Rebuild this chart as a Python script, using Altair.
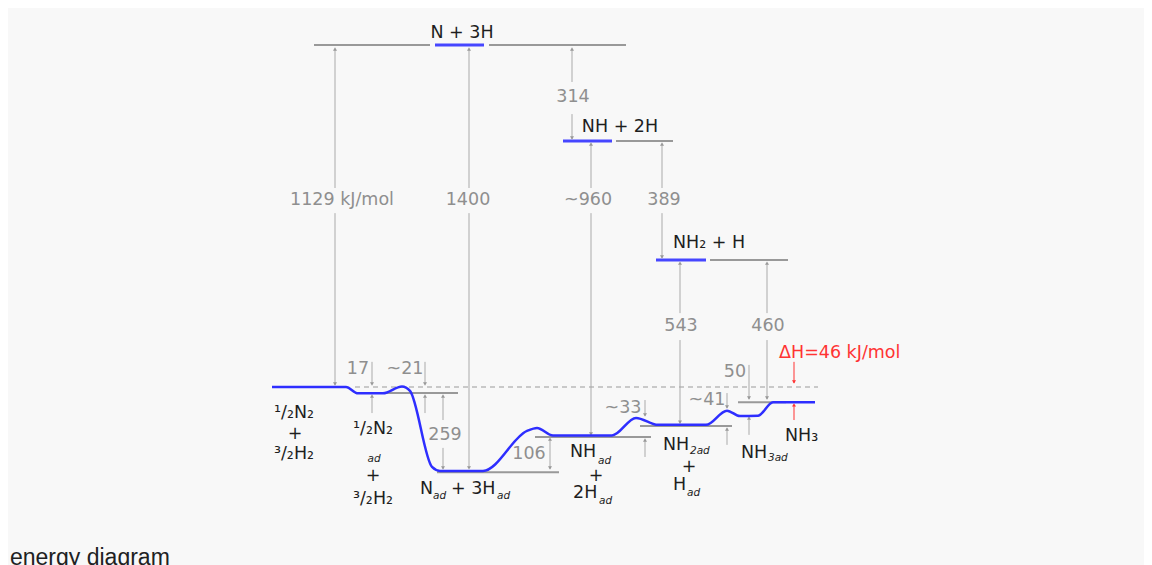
import altair as alt
import pandas as pd

# ---- data: x = reaction coordinate (diagram units), e = energy in kJ/mol (0 = 1/2 N2 + 3/2 H2)
E_TOP, E_BOTTOM = 1251.2, -587.6
X_MIN, X_MAX = 8, 1144

# reaction path (blue curve)
path_x = [272, 346, 358, 383, 402, 410, 432, 440, 483, 527, 537, 553, 612, 636, 658, 706, 727, 740, 758, 773, 815]
path_e = [0, 0, -21, -21, 2, -13, -264, -277, -277, -145, -135, -160, -160, -102, -125, -125, -78, -96, -95, -50, -50]

# gray energy levels
level_x1 = [314, 489, 616, 710, 355, 437, 535, 640, 738]
level_x2 = [430, 626, 673, 788, 458, 559, 651, 732, 786]
level_e = [1129, 1129, 812, 419, -20, -281, -165, -129, -50]

# blue gas-phase levels
blue_x1 = [435, 563, 656]
blue_x2 = [484, 612, 706]
blue_e = [1129, 812, 419]

# reference (dashed) level
ref_x1 = [355]
ref_x2 = [818]
ref_e = [0]

# arrow shafts
seg_x = [335, 335, 469, 469, 572, 572, 591, 591, 662, 662, 680, 680, 767, 767,
         372, 372, 425, 425, 443, 443, 550, 645, 645, 727, 727, 749, 749]
seg_e1 = [1116, 574, 1116, 574, 1116, 901, 799, 574, 799, 574, 406, 155, 406, 155,
          83, -30, 83, -30, -33, -201, -175, -43, -175, -20, -135, 73, -102]
seg_e2 = [657, 7, 657, -267, 1007, 819, 657, -158, 657, 426, 244, -119, 244, -40,
          10, -86, 10, -86, -109, -271, -271, -96, -231, -69, -191, -40, -158]

# arrow heads
head_x = [335, 335, 469, 469, 572, 572, 591, 591, 662, 662, 680, 680, 767, 767,
          372, 372, 425, 425, 443, 443, 550, 550, 645, 645, 727, 727, 749, 749]
head_e = [1116, 10, 1116, -267, 1116, 822, 802, -155, 802, 429, 409, -116, 409, -36,
          10, -30, 10, -30, -30, -267, -172, -267, -92, -175, -66, -139, -36, -102]
head_dir = ["up", "down", "up", "down", "up", "down", "up", "down", "up", "down", "up", "down", "up", "down",
            "down", "up", "down", "up", "up", "down", "up", "down", "down", "up", "down", "up", "down", "up"]

# red ΔH marker
red_seg_x = [794, 794]
red_seg_e1 = [83, -59]
red_seg_e2 = [13, -109]
red_head_x = [794, 794]
red_head_e = [17, -59]
red_head_dir = ["down", "up"]

# gray value labels
val_text = ["1129 kJ/mol", "1400", "314", "~960", "389", "543", "460", "17", "~21", "259", "106", "~33", "~41", "50"]
val_x = [342, 468, 573, 588, 664, 681, 768, 358, 405, 445, 529, 623, 707, 735]
val_e = [617, 617, 957, 617, 617, 201, 201, 59, 59, -158, -221, -69, -43, 50]

# dark species labels (centered)
sp_text = ["N + 3H", "NH + 2H", "NH₂ + H", "¹/₂N₂", "+", "³/₂H₂", "¹/₂N₂", "+", "³/₂H₂", "+", "+"]
sp_x = [462, 620, 709, 294, 295, 294, 373, 373, 373, 596, 689]
sp_e = [1169, 858, 475, -86, -155, -221, -139, -294, -370, -294, -264]

# dark species labels (left-aligned pieces)
spl_text = ["N", "+ 3H", "NH", "2H", "NH", "H", "NH", "NH₃"]
spl_x = [420, 451, 570, 573, 663, 673, 741, 785]
spl_e = [-337, -337, -215, -350, -191, -324, -218, -162]

# "ad" subscripts
sub_text = ["ad", "ad", "ad", "ad", "2ad", "ad", "3ad"]
sub_x = [433, 497, 598, 599, 690, 687, 768]
sub_e = [-360, -360, -244, -376, -211, -350, -234]
subc_text = ["ad"]
subc_x = [374]
subc_e = [-238]

red_text = ["ΔH=46 kJ/mol"]
red_x = [779]
red_e = [112]

caption_text = ["energy diagram"]
caption_x = [10]
caption_e = [-586]

# ---- chart
xs = alt.Scale(domain=[X_MIN, X_MAX], nice=False, zero=False)
ys = alt.Scale(domain=[E_BOTTOM, E_TOP], nice=False, zero=False)


def X(f):
    return alt.X(f, type="quantitative", scale=xs, axis=None)


def Y(f):
    return alt.Y(f, type="quantitative", scale=ys, axis=None)


shape_scale = alt.Scale(domain=["up", "down"], range=["triangle-up", "triangle-down"])
FS = 17.5

levels = alt.Chart(pd.DataFrame({"x1": level_x1, "x2": level_x2, "e": level_e})).mark_rule(
    color="#999999", strokeWidth=2).encode(x=X("x1"), x2="x2:Q", y=Y("e"))
blues = alt.Chart(pd.DataFrame({"x1": blue_x1, "x2": blue_x2, "e": blue_e})).mark_rule(
    color="#4646ff", strokeWidth=3).encode(x=X("x1"), x2="x2:Q", y=Y("e"))
ref = alt.Chart(pd.DataFrame({"x1": ref_x1, "x2": ref_x2, "e": ref_e})).mark_rule(
    color="#999999", strokeWidth=1.2, strokeDash=[5, 4]).encode(x=X("x1"), x2="x2:Q", y=Y("e"))

segs = alt.Chart(pd.DataFrame({"x": seg_x, "e1": seg_e1, "e2": seg_e2})).mark_rule(
    color="#aaaaaa", strokeWidth=1).encode(x=X("x"), y=Y("e1"), y2="e2:Q")
heads = alt.Chart(pd.DataFrame({"x": head_x, "e": head_e, "d": head_dir})).mark_point(
    filled=True, size=16, color="#999999", opacity=1).encode(
    x=X("x"), y=Y("e"), shape=alt.Shape("d:N", scale=shape_scale, legend=None))

red_segs = alt.Chart(pd.DataFrame({"x": red_seg_x, "e1": red_seg_e1, "e2": red_seg_e2})).mark_rule(
    color="#ff3333", strokeWidth=1).encode(x=X("x"), y=Y("e1"), y2="e2:Q")
red_heads = alt.Chart(pd.DataFrame({"x": red_head_x, "e": red_head_e, "d": red_head_dir})).mark_point(
    filled=True, size=16, color="#ff3333", opacity=1).encode(
    x=X("x"), y=Y("e"), shape=alt.Shape("d:N", scale=shape_scale, legend=None))

path = alt.Chart(pd.DataFrame({"x": path_x, "e": path_e})).mark_line(
    interpolate="monotone", color="#2e2eff", strokeWidth=2.5).encode(x=X("x"), y=Y("e"))

vals = alt.Chart(pd.DataFrame({"x": val_x, "e": val_e, "t": val_text})).mark_text(
    font="DejaVu Sans", fontSize=FS, color="#8f8f8f", align="center", baseline="middle").encode(
    x=X("x"), y=Y("e"), text="t:N")
species = alt.Chart(pd.DataFrame({"x": sp_x, "e": sp_e, "t": sp_text})).mark_text(
    font="DejaVu Sans", fontSize=FS, color="#1e1e1e", align="center", baseline="middle").encode(
    x=X("x"), y=Y("e"), text="t:N")
species_l = alt.Chart(pd.DataFrame({"x": spl_x, "e": spl_e, "t": spl_text})).mark_text(
    font="DejaVu Sans", fontSize=FS, color="#1e1e1e", align="left", baseline="middle").encode(
    x=X("x"), y=Y("e"), text="t:N")
subs = alt.Chart(pd.DataFrame({"x": sub_x, "e": sub_e, "t": sub_text})).mark_text(
    font="DejaVu Sans", fontSize=10.5, fontStyle="italic", color="#1e1e1e", align="left", baseline="middle").encode(
    x=X("x"), y=Y("e"), text="t:N")
subs_c = alt.Chart(pd.DataFrame({"x": subc_x, "e": subc_e, "t": subc_text})).mark_text(
    font="DejaVu Sans", fontSize=10.5, fontStyle="italic", color="#1e1e1e", align="center", baseline="middle").encode(
    x=X("x"), y=Y("e"), text="t:N")
red_lbl = alt.Chart(pd.DataFrame({"x": red_x, "e": red_e, "t": red_text})).mark_text(
    font="DejaVu Sans", fontSize=FS, color="#ff3333", align="left", baseline="middle").encode(
    x=X("x"), y=Y("e"), text="t:N")
caption = alt.Chart(pd.DataFrame({"x": caption_x, "e": caption_e, "t": caption_text})).mark_text(
    font="Liberation Sans", fontSize=23, color="#202122", align="left", baseline="alphabetic").encode(
    x=X("x"), y=Y("e"), text="t:N")

chart = alt.layer(
    ref, levels, blues, segs, heads, red_segs, red_heads, path,
    vals, species, species_l, subs, subs_c, red_lbl, caption
).properties(
    width=1136, height=557, padding=0, background="#f8f8f8",
    autosize=alt.AutoSizeParams(type="none")
).configure_view(strokeWidth=0)

chart.save("out.html", embed_options={"renderer": "svg", "actions": False})
